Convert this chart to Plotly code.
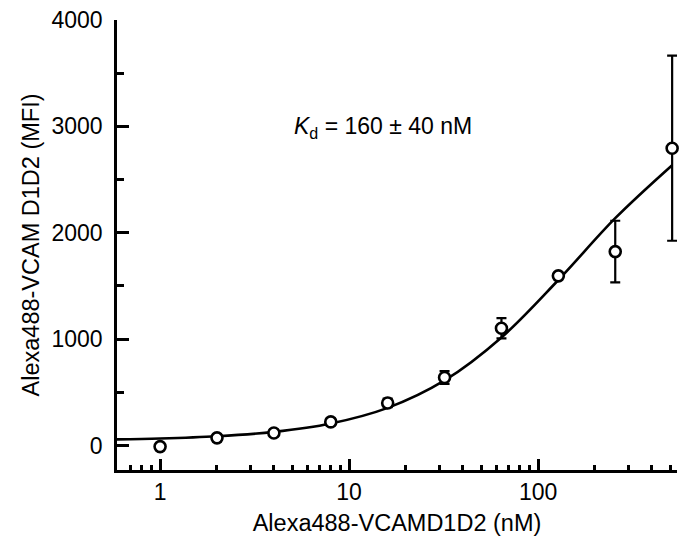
import plotly.graph_objects as go

# Measured data
conc = [1, 2, 4, 8, 16, 32, 64, 128, 256, 512]
mfi = [-10, 72, 118, 222, 400, 640, 1103, 1595, 1823, 2795]
mfi_err = [0, 30, 30, 30, 40, 60, 95, 0, 290, 870]

# Fitted curve values
fit_x = [0.59, 1, 2, 4, 8, 16, 32, 64, 128, 256, 512]
fit_y = [58, 66, 87, 128, 207, 354, 612, 1016, 1556, 2137, 2635]

x_major = [1, 10, 100]
x_minor = [0.7, 0.8, 0.9, 2, 3, 4, 5, 6, 7, 8, 9, 20, 30, 40, 50, 60, 70, 80, 90,
           200, 300, 400, 500]

FONT = "Liberation Sans, Arial"

fig = go.Figure()
fig.add_trace(go.Scatter(x=fit_x, y=fit_y, mode="lines", line=dict(color="black", width=2.6, shape="spline"),
                         hoverinfo="skip", showlegend=False, cliponaxis=False))
fig.add_trace(go.Scatter(x=conc, y=mfi, mode="markers",
                         marker=dict(symbol="circle", size=11, color="white", line=dict(color="black", width=2.6)),
                         error_y=dict(type="data", array=mfi_err, visible=True, color="black", thickness=2.2, width=5),
                         showlegend=False, cliponaxis=False))

fig.add_annotation(xref="paper", yref="paper", x=0.475, y=0.798,
                   text="<i>K</i><sub>d</sub> = 160 ± 40 nM", showarrow=False,
                   font=dict(size=23, color="black", family=FONT))

fig.update_layout(
    width=679, height=549,
    margin=dict(l=117, r=2, t=20, b=79),
    paper_bgcolor="white", plot_bgcolor="white",
    font=dict(family=FONT, size=23, color="black"),
    xaxis=dict(type="log", range=[-0.228, 2.735], showgrid=False, zeroline=False, automargin=False,
               showline=True, linecolor="black", linewidth=2.5,
               ticks="inside", ticklen=11, tickwidth=2.5, tickcolor="black",
               tickvals=x_major, ticktext=["1", "10", "100"], ticklabeloverflow="allow",
               tickfont=dict(size=23, family=FONT, color="black"),
               minor=dict(ticks="inside", ticklen=5, tickwidth=2.5, tickcolor="black", tickvals=x_minor),
               title=dict(text="Alexa488-VCAMD1D2 (nM)", standoff=11, font=dict(size=23.5, family=FONT))),
    yaxis=dict(range=[-230, 4000], showgrid=False, zeroline=False, automargin=False,
               showline=True, linecolor="black", linewidth=2.5,
               ticks="inside", ticklen=12, tickwidth=2.5, tickcolor="black",
               tickvals=[0, 1000, 2000, 3000, 4000], ticklabelstandoff=7, ticklabeloverflow="allow",
               tickfont=dict(size=23, family=FONT, color="black"),
               minor=dict(ticks="inside", ticklen=7, tickwidth=2.5, tickcolor="black", dtick=500),
               title=dict(text="Alexa488-VCAM D1D2 (MFI)", standoff=6, font=dict(size=23.5, family=FONT))),
)

fig.write_html("out.html", config={"displayModeBar": False},
               post_script="document.body.style.margin='0';document.body.style.overflow='hidden';")
